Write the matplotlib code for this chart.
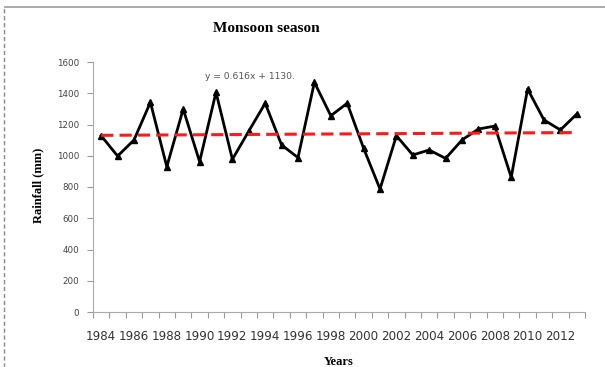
import numpy as np
import matplotlib.pyplot as plt
from matplotlib.lines import Line2D

# Monsoon rainfall (mm)
years = list(range(1984, 2014))
rainfall = [1128, 998, 1101, 1342, 930, 1299, 962, 1406, 977, 1158,
            1336, 1069, 988, 1470, 1256, 1336, 1048, 787, 1128, 1005,
            1037, 983, 1101, 1171, 1190, 862, 1427, 1229, 1165, 1267]

# trendline as printed on the chart (x = 1..n)
slope = 0.616
intercept = 1130
trend_label = 'y = 0.616x + 1130.'

yticks = list(range(0, 1601, 200))
xlabels = list(range(1984, 2013, 2))

fig = plt.figure(figsize=(6.05, 3.67), dpi=100)
ax = fig.add_axes([93 / 605, 55 / 367, 492 / 605, 250 / 367])

ax.plot(years, rainfall, color='black', lw=2, marker='^', ms=4,
        markerfacecolor='black', zorder=3)

idx = np.arange(1, len(years) + 1)
trend = slope * idx + intercept
ax.plot(years, trend, color='#ff1a1a', lw=2.2, dashes=(4, 2), zorder=4)

ax.set_xlim(years[0] - 0.5, years[-1] + 0.5)
ax.set_ylim(0, 1600)

# category-style ticks: marks between years, labels every 2 years
ax.set_xticks(np.arange(years[0] - 0.5, years[-1] + 1, 1))
ax.set_xticklabels([])
ax.set_xticks(xlabels, minor=True)
ax.set_xticklabels([str(y) for y in xlabels], minor=True)
ax.tick_params(axis='x', which='major', length=4, color='#999999', direction='out')
ax.tick_params(axis='x', which='minor', length=0, pad=13, labelsize=8.6,
               labelcolor='#333333')

ax.set_yticks(yticks)
ax.set_yticklabels([str(v) for v in yticks])
ax.tick_params(axis='y', length=4, color='#999999', pad=6, labelsize=6.3,
               labelcolor='#444444')

for s in ['top', 'right']:
    ax.spines[s].set_visible(False)
for s in ['left', 'bottom']:
    ax.spines[s].set_color('#aaaaaa')
    ax.spines[s].set_linewidth(0.8)

ax.text(1990.3, 1505, trend_label, fontsize=6.6, color='#555555',
        va='center', ha='left')

fig.text(266 / 605, 1 - 29 / 367, 'Monsoon season', ha='center', va='center',
         family='Liberation Serif', fontweight='bold', fontsize=11)
fig.text(38 / 605, 1 - 185 / 367, 'Rainfall (mm)', ha='center', va='center',
         rotation=90, family='Liberation Serif', fontweight='bold', fontsize=9)
fig.text(339 / 605, 1 - 362 / 367, 'Years', ha='center', va='center',
         family='Liberation Serif', fontweight='bold', fontsize=9)

# frame lines of the cropped figure
fig.add_artist(Line2D([5 / 605, 1], [1 - 7 / 367, 1 - 7 / 367],
                      transform=fig.transFigure, color='#999999', lw=1.2))
fig.add_artist(Line2D([4 / 605, 4 / 605], [0, 1 - 7 / 367],
                      transform=fig.transFigure, color='#888888', lw=1,
                      dashes=(3, 2)))

fig.savefig('out.png', dpi=100)
